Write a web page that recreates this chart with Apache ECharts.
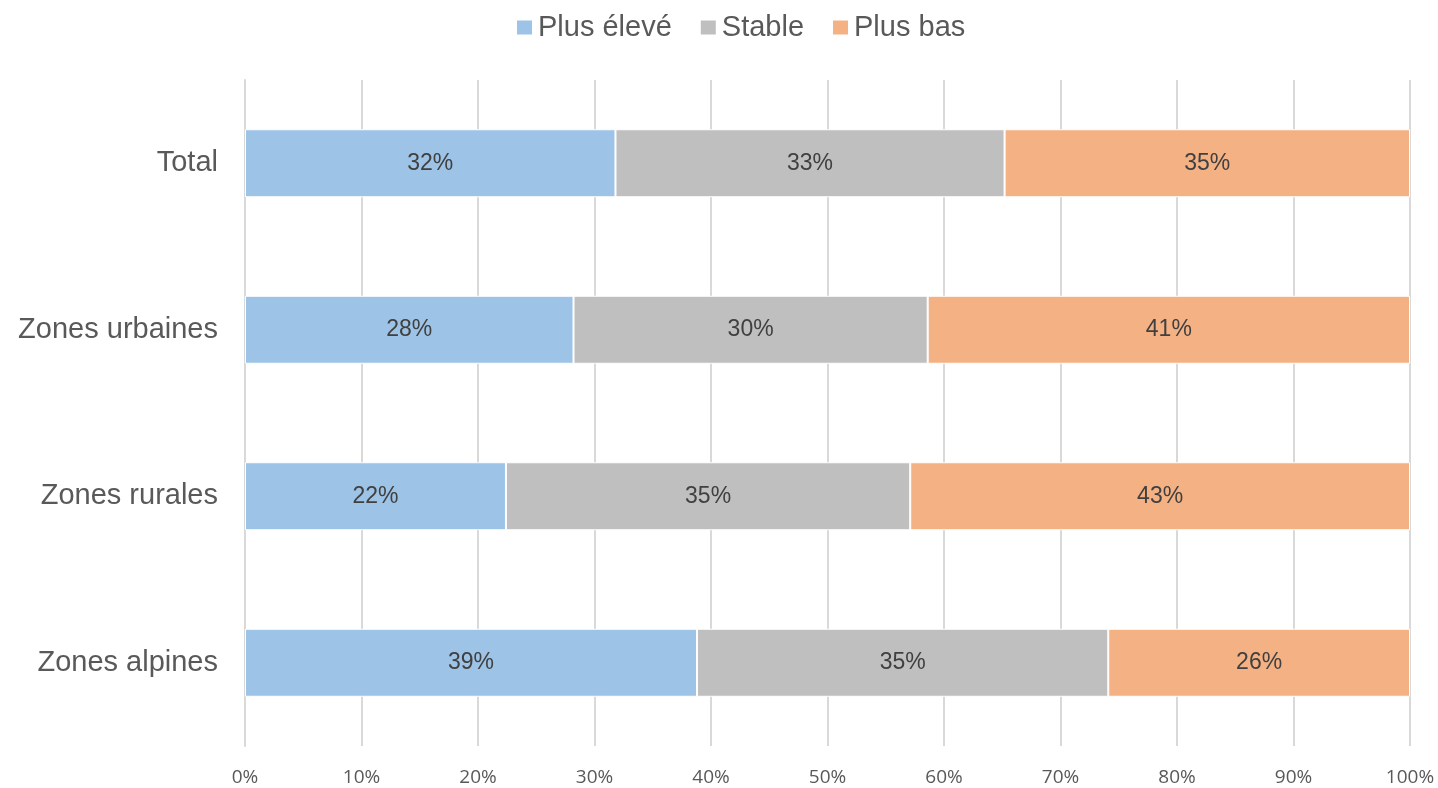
<!DOCTYPE html>
<html>
<head>
<meta charset="utf-8">
<script src="https://cdn.jsdelivr.net/npm/echarts@6/dist/echarts.min.js"></script>
<style>
  html, body { margin: 0; padding: 0; background: #fff; }
  #chart { width: 1438px; height: 788px; }
</style>
</head>
<body>
<div id="chart"></div>
<script>
// catégories (de haut en bas)
const categories = ['Total', 'Zones urbaines', 'Zones rurales', 'Zones alpines']
const seriesNames = ['Plus élevé', 'Stable', 'Plus bas']
// valeurs en %
const plusEleve = [31.8, 28.2, 22.4, 38.8]
const stable = [33.4, 30.4, 34.7, 35.3]
const plusBas = [34.8, 41.4, 42.9, 25.9]
const colors = ['#9DC3E6', '#BFBFBF', '#F4B183']

const chart = echarts.init(document.getElementById('chart'))

const values = [plusEleve, stable, plusBas]
const series = seriesNames.map((name, i) => ({
    name: name,
    type: 'bar',
    stack: 'total',
    barWidth: 68,
    data: values[i],
    itemStyle: {
        color: colors[i],
        borderColor: '#ffffff',
        borderWidth: 1
    },
    label: {
        show: true,
        position: 'inside',
        color: '#404040',
        fontSize: 23,
        fontFamily: 'Liberation Sans, Arial, sans-serif',
        formatter: p => Math.round(p.value) + '%'
    }
}))

chart.setOption({
    animation: false,
    legend: {
        top: 8,
        left: 510,
        itemWidth: 17,
        itemHeight: 16,
        itemGap: 27,
        icon: 'rect',
        textStyle: {
            fontSize: 29,
            color: '#595959',
            fontFamily: 'Liberation Sans, Arial, sans-serif'
        },
        data: seriesNames
    },
    grid: {
        left: 245,
        right: 28,
        top: 80,
        bottom: 42
    },
    xAxis: {
        type: 'value',
        min: 0,
        max: 100,
        interval: 10,
        axisLine: { show: false },
        axisTick: { show: false },
        splitLine: { lineStyle: { color: '#D9D9D9', width: 2 } },
        axisLabel: {
            formatter: '{value}%',
            fontSize: 19,
            color: '#595959',
            margin: 22,
            fontFamily: 'Open Sans, sans-serif'
        }
    },
    yAxis: {
        type: 'category',
        inverse: true,
        data: categories,
        axisLine: { show: true, lineStyle: { color: '#D9D9D9', width: 2 } },
        axisTick: { show: false },
        axisLabel: {
            fontSize: 29,
            color: '#595959',
            margin: 27,
            fontFamily: 'Liberation Sans, Arial, sans-serif'
        }
    },
    series: series
})
</script>
</body>
</html>
